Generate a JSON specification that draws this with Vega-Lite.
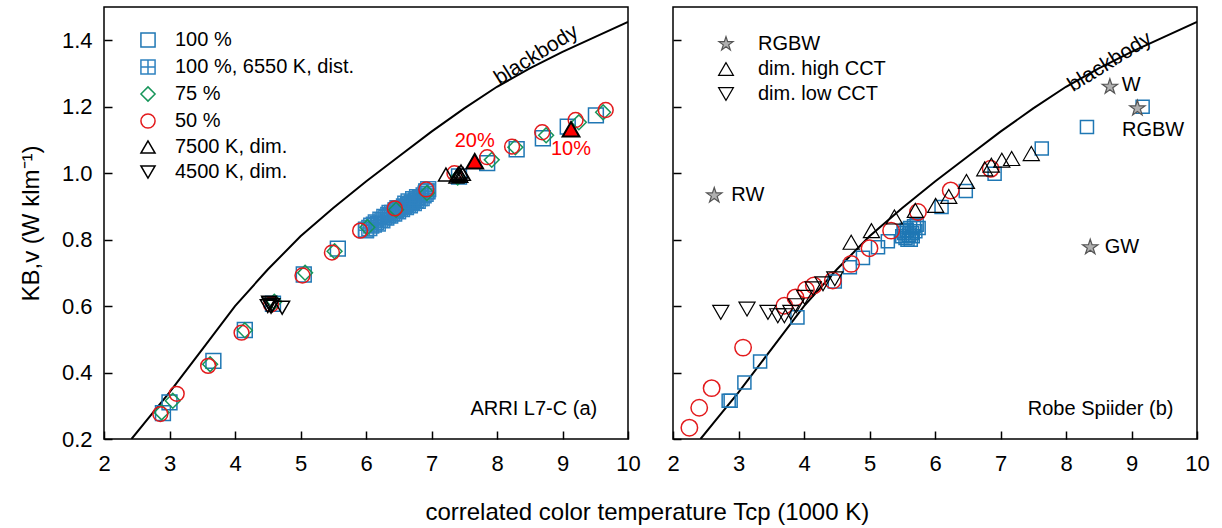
{
  "$schema": "https://vega.github.io/schema/vega-lite/v6.json",
  "background": "white",
  "padding": {"left": 18, "top": 6, "right": 5, "bottom": 5},
  "title": {"text": "correlated color temperature Tcp (1000 K)", "orient": "bottom", "anchor": "middle", "fontSize": 24, "fontWeight": "normal", "font": "Liberation Sans", "color": "black", "offset": 26, "dx": 33},
  "datasets": {
    "blackbody": [
      {"T": 2.42, "K": 0.2}, {"T": 2.75, "K": 0.28}, {"T": 3.0, "K": 0.34}, {"T": 3.5, "K": 0.47},
      {"T": 4.0, "K": 0.6}, {"T": 4.5, "K": 0.71}, {"T": 5.0, "K": 0.81}, {"T": 5.5, "K": 0.895},
      {"T": 6.0, "K": 0.975}, {"T": 6.5, "K": 1.05}, {"T": 7.0, "K": 1.125}, {"T": 7.5, "K": 1.195},
      {"T": 8.0, "K": 1.26}, {"T": 8.5, "K": 1.315}, {"T": 9.0, "K": 1.365}, {"T": 9.5, "K": 1.41}, {"T": 10.0, "K": 1.455}
    ],
    "arri": [
      {"T": 2.90, "K": 0.278, "s": "100 %"}, {"T": 3.00, "K": 0.31, "s": "100 %"}, {"T": 3.67, "K": 0.435, "s": "100 %"},
      {"T": 4.15, "K": 0.528, "s": "100 %"}, {"T": 4.58, "K": 0.607, "s": "100 %"}, {"T": 5.05, "K": 0.695, "s": "100 %"},
      {"T": 5.57, "K": 0.773, "s": "100 %"}, {"T": 6.0, "K": 0.83, "s": "100 %"}, {"T": 6.45, "K": 0.888, "s": "100 %"},
      {"T": 6.92, "K": 0.945, "s": "100 %"}, {"T": 7.42, "K": 0.99, "s": "100 %"}, {"T": 7.85, "K": 1.03, "s": "100 %"},
      {"T": 8.3, "K": 1.072, "s": "100 %"}, {"T": 8.7, "K": 1.105, "s": "100 %"}, {"T": 9.08, "K": 1.14, "s": "100 %"},
      {"T": 9.51, "K": 1.174, "s": "100 %"},
      {"T": 6.00, "K": 0.828, "s": "100 %, 6550 K, dist."}, {"T": 6.05, "K": 0.835, "s": "100 %, 6550 K, dist."},
      {"T": 6.08, "K": 0.842, "s": "100 %, 6550 K, dist."}, {"T": 6.12, "K": 0.845, "s": "100 %, 6550 K, dist."},
      {"T": 6.15, "K": 0.852, "s": "100 %, 6550 K, dist."}, {"T": 6.18, "K": 0.848, "s": "100 %, 6550 K, dist."},
      {"T": 6.22, "K": 0.86, "s": "100 %, 6550 K, dist."}, {"T": 6.25, "K": 0.858, "s": "100 %, 6550 K, dist."},
      {"T": 6.28, "K": 0.868, "s": "100 %, 6550 K, dist."}, {"T": 6.31, "K": 0.866, "s": "100 %, 6550 K, dist."},
      {"T": 6.34, "K": 0.874, "s": "100 %, 6550 K, dist."}, {"T": 6.37, "K": 0.872, "s": "100 %, 6550 K, dist."},
      {"T": 6.40, "K": 0.88, "s": "100 %, 6550 K, dist."}, {"T": 6.43, "K": 0.878, "s": "100 %, 6550 K, dist."},
      {"T": 6.46, "K": 0.888, "s": "100 %, 6550 K, dist."}, {"T": 6.49, "K": 0.885, "s": "100 %, 6550 K, dist."},
      {"T": 6.52, "K": 0.893, "s": "100 %, 6550 K, dist."}, {"T": 6.55, "K": 0.892, "s": "100 %, 6550 K, dist."},
      {"T": 6.58, "K": 0.9, "s": "100 %, 6550 K, dist."}, {"T": 6.61, "K": 0.898, "s": "100 %, 6550 K, dist."},
      {"T": 6.64, "K": 0.905, "s": "100 %, 6550 K, dist."}, {"T": 6.67, "K": 0.903, "s": "100 %, 6550 K, dist."},
      {"T": 6.70, "K": 0.912, "s": "100 %, 6550 K, dist."}, {"T": 6.73, "K": 0.91, "s": "100 %, 6550 K, dist."},
      {"T": 6.76, "K": 0.918, "s": "100 %, 6550 K, dist."}, {"T": 6.79, "K": 0.917, "s": "100 %, 6550 K, dist."},
      {"T": 6.82, "K": 0.925, "s": "100 %, 6550 K, dist."}, {"T": 6.85, "K": 0.925, "s": "100 %, 6550 K, dist."},
      {"T": 6.88, "K": 0.933, "s": "100 %, 6550 K, dist."}, {"T": 6.91, "K": 0.938, "s": "100 %, 6550 K, dist."},
      {"T": 6.94, "K": 0.945, "s": "100 %, 6550 K, dist."}, {"T": 6.95, "K": 0.952, "s": "100 %, 6550 K, dist."},
      {"T": 6.72, "K": 0.922, "s": "100 %, 6550 K, dist."}, {"T": 6.60, "K": 0.908, "s": "100 %, 6550 K, dist."},
      {"T": 6.48, "K": 0.895, "s": "100 %, 6550 K, dist."}, {"T": 6.36, "K": 0.88, "s": "100 %, 6550 K, dist."},
      {"T": 6.65, "K": 0.915, "s": "100 %, 6550 K, dist."}, {"T": 6.78, "K": 0.928, "s": "100 %, 6550 K, dist."},
      {"T": 2.88, "K": 0.28, "s": "75 %"}, {"T": 3.05, "K": 0.315, "s": "75 %"}, {"T": 3.62, "K": 0.425, "s": "75 %"},
      {"T": 4.15, "K": 0.527, "s": "75 %"}, {"T": 4.6, "K": 0.613, "s": "75 %"}, {"T": 5.07, "K": 0.7, "s": "75 %"},
      {"T": 5.52, "K": 0.765, "s": "75 %"}, {"T": 6.02, "K": 0.837, "s": "75 %"}, {"T": 6.46, "K": 0.89, "s": "75 %"},
      {"T": 6.93, "K": 0.94, "s": "75 %"}, {"T": 7.4, "K": 0.987, "s": "75 %"}, {"T": 7.92, "K": 1.04, "s": "75 %"},
      {"T": 8.28, "K": 1.078, "s": "75 %"}, {"T": 8.75, "K": 1.114, "s": "75 %"}, {"T": 9.25, "K": 1.153, "s": "75 %"},
      {"T": 9.62, "K": 1.183, "s": "75 %"},
      {"T": 2.86, "K": 0.275, "s": "50 %"}, {"T": 3.11, "K": 0.336, "s": "50 %"}, {"T": 3.59, "K": 0.42, "s": "50 %"},
      {"T": 4.1, "K": 0.52, "s": "50 %"}, {"T": 4.55, "K": 0.605, "s": "50 %"}, {"T": 5.03, "K": 0.692, "s": "50 %"},
      {"T": 5.48, "K": 0.761, "s": "50 %"}, {"T": 5.91, "K": 0.827, "s": "50 %"}, {"T": 6.44, "K": 0.894, "s": "50 %"},
      {"T": 6.92, "K": 0.951, "s": "50 %"}, {"T": 7.35, "K": 1.0, "s": "50 %"}, {"T": 7.85, "K": 1.048, "s": "50 %"},
      {"T": 8.23, "K": 1.08, "s": "50 %"}, {"T": 8.69, "K": 1.123, "s": "50 %"}, {"T": 9.2, "K": 1.16, "s": "50 %"},
      {"T": 9.66, "K": 1.19, "s": "50 %"},
      {"T": 7.22, "K": 0.996, "s": "7500 K, dim."}, {"T": 7.38, "K": 0.99, "s": "7500 K, dim."},
      {"T": 7.42, "K": 1.0, "s": "7500 K, dim."}, {"T": 7.45, "K": 1.005, "s": "7500 K, dim."},
      {"T": 7.4, "K": 0.995, "s": "7500 K, dim."}, {"T": 7.48, "K": 0.998, "s": "7500 K, dim."},
      {"T": 7.44, "K": 0.992, "s": "7500 K, dim."},
      {"T": 4.5, "K": 0.6, "s": "4500 K, dim."}, {"T": 4.53, "K": 0.605, "s": "4500 K, dim."},
      {"T": 4.55, "K": 0.598, "s": "4500 K, dim."}, {"T": 4.52, "K": 0.61, "s": "4500 K, dim."},
      {"T": 4.57, "K": 0.603, "s": "4500 K, dim."}, {"T": 4.72, "K": 0.595, "s": "4500 K, dim."}
    ],
    "arriRed": [
      {"T": 7.66, "K": 1.036, "label": "20%", "LK": 1.097},
      {"T": 9.13, "K": 1.132, "label": "10%", "LK": 1.072}
    ],
    "robeSquares": [
      {"T": 2.85, "K": 0.315}, {"T": 2.88, "K": 0.315}, {"T": 3.09, "K": 0.37}, {"T": 3.33, "K": 0.433},
      {"T": 3.9, "K": 0.566}, {"T": 4.47, "K": 0.674}, {"T": 4.7, "K": 0.717}, {"T": 4.9, "K": 0.745},
      {"T": 5.13, "K": 0.777}, {"T": 5.28, "K": 0.795},
      {"T": 5.50, "K": 0.81}, {"T": 5.53, "K": 0.82}, {"T": 5.55, "K": 0.805}, {"T": 5.57, "K": 0.83},
      {"T": 5.60, "K": 0.815}, {"T": 5.62, "K": 0.835}, {"T": 5.58, "K": 0.8}, {"T": 5.65, "K": 0.82},
      {"T": 5.68, "K": 0.84}, {"T": 5.70, "K": 0.825}, {"T": 5.72, "K": 0.845}, {"T": 5.66, "K": 0.81},
      {"T": 5.75, "K": 0.835}, {"T": 5.52, "K": 0.825}, {"T": 5.63, "K": 0.8},
      {"T": 6.1, "K": 0.898}, {"T": 6.47, "K": 0.946}, {"T": 6.91, "K": 0.998}, {"T": 7.63, "K": 1.074},
      {"T": 8.32, "K": 1.139}, {"T": 9.17, "K": 1.2}
    ],
    "robeCircles": [
      {"T": 2.25, "K": 0.234}, {"T": 2.4, "K": 0.294}, {"T": 2.59, "K": 0.353}, {"T": 3.07, "K": 0.475},
      {"T": 3.7, "K": 0.601}, {"T": 3.87, "K": 0.626}, {"T": 4.03, "K": 0.649}, {"T": 4.15, "K": 0.662},
      {"T": 4.44, "K": 0.677}, {"T": 4.72, "K": 0.727}, {"T": 5.0, "K": 0.774}, {"T": 5.33, "K": 0.827},
      {"T": 5.74, "K": 0.883}, {"T": 6.24, "K": 0.948}, {"T": 6.85, "K": 1.013}
    ],
    "robe": [
      {"T": 2.73, "K": 0.581, "s": "dim. low CCT"}, {"T": 3.13, "K": 0.591, "s": "dim. low CCT"},
      {"T": 3.45, "K": 0.581, "s": "dim. low CCT"}, {"T": 3.6, "K": 0.571, "s": "dim. low CCT"},
      {"T": 3.7, "K": 0.571, "s": "dim. low CCT"}, {"T": 3.8, "K": 0.581, "s": "dim. low CCT"},
      {"T": 3.88, "K": 0.601, "s": "dim. low CCT"}, {"T": 4.01, "K": 0.626, "s": "dim. low CCT"},
      {"T": 4.14, "K": 0.652, "s": "dim. low CCT"}, {"T": 4.29, "K": 0.667, "s": "dim. low CCT"},
      {"T": 4.47, "K": 0.682, "s": "dim. low CCT"},
      {"T": 4.72, "K": 0.792, "s": "dim. high CCT"}, {"T": 5.03, "K": 0.827, "s": "dim. high CCT"},
      {"T": 5.38, "K": 0.868, "s": "dim. high CCT"}, {"T": 5.7, "K": 0.888, "s": "dim. high CCT"},
      {"T": 6.01, "K": 0.903, "s": "dim. high CCT"}, {"T": 6.21, "K": 0.93, "s": "dim. high CCT"},
      {"T": 6.48, "K": 0.975, "s": "dim. high CCT"}, {"T": 6.76, "K": 1.013, "s": "dim. high CCT"},
      {"T": 6.86, "K": 1.024, "s": "dim. high CCT"}, {"T": 7.02, "K": 1.039, "s": "dim. high CCT"},
      {"T": 7.17, "K": 1.044, "s": "dim. high CCT"}, {"T": 7.47, "K": 1.059, "s": "dim. high CCT"},
      {"T": 2.63, "K": 0.933, "s": "RGBW"}, {"T": 8.67, "K": 1.26, "s": "RGBW"},
      {"T": 9.09, "K": 1.195, "s": "RGBW"}, {"T": 8.37, "K": 0.777, "s": "RGBW"}
    ],
    "starLabelsLeft": [
      {"T": 2.89, "K": 0.933, "label": "RW"}, {"T": 8.85, "K": 1.265, "label": "W"}, {"T": 8.59, "K": 0.777, "label": "GW"}
    ],
    "starLabelsCenter": [
      {"T": 9.33, "K": 1.129, "label": "RGBW"}
    ],
    "bbLabelL": [{"T": 8.6, "K": 1.355, "label": "blackbody"}],
    "bbLabelR": [{"T": 8.67, "K": 1.334, "label": "blackbody"}],
    "panelL": [{"T": 9.53, "K": 0.29, "label": "ARRI L7-C (a)"}],
    "panelR": [{"T": 9.64, "K": 0.29, "label": "Robe Spiider (b)"}]
  },
  "spacing": 25,
  "resolve": {"scale": {"color": "independent", "shape": "independent", "fill": "independent", "stroke": "independent"}},
  "hconcat": [
    {
      "width": 524,
      "height": 432,
      "layer": [
        {
          "data": {"name": "blackbody"},
          "mark": {"type": "line", "color": "black", "strokeWidth": 2, "clip": true},
          "encoding": {
            "x": {"field": "T", "type": "quantitative", "scale": {"domain": [2, 10], "nice": false, "zero": false},
              "axis": {"title": null, "values": [2, 3, 4, 5, 6, 7, 8, 9, 10], "format": "d", "domain": false,
                "offset": -8, "tickSize": 8, "labelPadding": 14, "labelFlush": false, "labelOverlap": false}},
            "y": {"field": "K", "type": "quantitative", "scale": {"domain": [0.2, 1.5], "nice": false, "zero": false},
              "axis": {"title": "KB,v (W klm⁻¹)", "titlePadding": 18, "format": ".1f", "domain": false,
                "values": [0.2, 0.4, 0.6, 0.8, 1.0, 1.2, 1.4],
                "offset": -8, "tickSize": 8, "labelPadding": 12, "labelFlush": false, "labelOverlap": false}}
          }
        },
        {
          "data": {"name": "arri"},
          "mark": {"type": "point", "filled": false, "strokeWidth": 1.5, "opacity": 1, "size": 220},
          "encoding": {
            "x": {"field": "T", "type": "quantitative"},
            "y": {"field": "K", "type": "quantitative"},
            "color": {"field": "s", "type": "nominal",
              "scale": {"domain": ["100 %", "100 %, 6550 K, dist.", "75 %", "50 %", "7500 K, dim.", "4500 K, dim."],
                "range": ["#1f77b4", "#2f82c0", "#17955a", "#e31a1c", "black", "black"]},
              "legend": {"title": null, "orient": "none", "legendX": 34, "legendY": 23, "labelFontSize": 20, "symbolSize": 200, "symbolStrokeWidth": 1.5, "rowPadding": 5, "labelOffset": 17, "labelLimit": 400}},
            "shape": {"field": "s", "type": "nominal",
              "scale": {"domain": ["100 %", "100 %, 6550 K, dist.", "75 %", "50 %", "7500 K, dim.", "4500 K, dim."],
                "range": ["square", "M-1,-1H1V1H-1Z M0,-1V1 M-1,0H1", "diamond", "circle", "triangle-up", "triangle-down"]}}
          }
        },
        {
          "data": {"name": "arriRed"},
          "mark": {"type": "point", "shape": "triangle-up", "filled": true, "fill": "#ff0000", "stroke": "black", "strokeWidth": 2, "size": 280, "opacity": 1},
          "encoding": {
            "x": {"field": "T", "type": "quantitative"},
            "y": {"field": "K", "type": "quantitative"}
          }
        },
        {
          "data": {"name": "arriRed"},
          "mark": {"type": "text", "color": "#ff0000", "fontSize": 20, "align": "center", "baseline": "middle"},
          "encoding": {
            "x": {"field": "T", "type": "quantitative"},
            "y": {"field": "LK", "type": "quantitative"},
            "text": {"field": "label", "type": "nominal"}
          }
        },
        {
          "data": {"name": "bbLabelL"},
          "mark": {"type": "text", "color": "black", "fontSize": 21, "angle": 328, "align": "center", "baseline": "middle"},
          "encoding": {
            "x": {"field": "T", "type": "quantitative"},
            "y": {"field": "K", "type": "quantitative"},
            "text": {"field": "label", "type": "nominal"}
          }
        },
        {
          "data": {"name": "panelL"},
          "mark": {"type": "text", "color": "black", "fontSize": 20, "align": "right", "baseline": "middle"},
          "encoding": {
            "x": {"field": "T", "type": "quantitative"},
            "y": {"field": "K", "type": "quantitative"},
            "text": {"field": "label", "type": "nominal"}
          }
        }
      ]
    },
    {
      "width": 524,
      "height": 432,
      "layer": [
        {
          "data": {"name": "blackbody"},
          "mark": {"type": "line", "color": "black", "strokeWidth": 2, "clip": true},
          "encoding": {
            "x": {"field": "T", "type": "quantitative", "scale": {"domain": [2, 10], "nice": false, "zero": false},
              "axis": {"title": null, "values": [2, 3, 4, 5, 6, 7, 8, 9, 10], "format": "d", "domain": false,
                "offset": -8, "tickSize": 8, "labelPadding": 14, "labelFlush": false, "labelOverlap": false}},
            "y": {"field": "K", "type": "quantitative", "scale": {"domain": [0.2, 1.5], "nice": false, "zero": false},
              "axis": {"title": null, "labels": false, "domain": false, "values": [0.2, 0.4, 0.6, 0.8, 1.0, 1.2, 1.4], "offset": -8, "tickSize": 8}}
          }
        },
        {
          "data": {"name": "robeSquares"},
          "mark": {"type": "point", "shape": "square", "filled": false, "color": "#1f77b4", "strokeWidth": 1.5, "size": 170, "opacity": 1},
          "encoding": {
            "x": {"field": "T", "type": "quantitative"},
            "y": {"field": "K", "type": "quantitative"}
          }
        },
        {
          "data": {"name": "robeCircles"},
          "mark": {"type": "point", "shape": "circle", "filled": false, "color": "#e31a1c", "strokeWidth": 1.5, "size": 270, "opacity": 1},
          "encoding": {
            "x": {"field": "T", "type": "quantitative"},
            "y": {"field": "K", "type": "quantitative"}
          }
        },
        {
          "data": {"name": "robe"},
          "mark": {"type": "point", "strokeWidth": 1.2, "opacity": 1, "size": 260},
          "encoding": {
            "x": {"field": "T", "type": "quantitative"},
            "y": {"field": "K", "type": "quantitative"},
            "fill": {"field": "s", "type": "nominal",
              "scale": {"domain": ["RGBW", "dim. high CCT", "dim. low CCT"], "range": ["#b0b0b0", "transparent", "transparent"]},
              "legend": {"title": null, "orient": "none", "legendX": 43, "legendY": 27, "labelFontSize": 20, "symbolSize": 220, "symbolStrokeWidth": 1.2, "rowPadding": 5, "labelOffset": 22, "labelLimit": 400}},
            "stroke": {"field": "s", "type": "nominal",
              "scale": {"domain": ["RGBW", "dim. high CCT", "dim. low CCT"], "range": ["#555555", "black", "black"]}},
            "shape": {"field": "s", "type": "nominal",
              "scale": {"domain": ["RGBW", "dim. high CCT", "dim. low CCT"],
                "range": ["M0,-1L0.225,-0.309L0.951,-0.309L0.363,0.118L0.588,0.809L0,0.382L-0.588,0.809L-0.363,0.118L-0.951,-0.309L-0.225,-0.309Z", "triangle-up", "triangle-down"]}}
          }
        },
        {
          "data": {"name": "starLabelsLeft"},
          "mark": {"type": "text", "color": "black", "fontSize": 20, "align": "left", "baseline": "middle"},
          "encoding": {
            "x": {"field": "T", "type": "quantitative"},
            "y": {"field": "K", "type": "quantitative"},
            "text": {"field": "label", "type": "nominal"}
          }
        },
        {
          "data": {"name": "starLabelsCenter"},
          "mark": {"type": "text", "color": "black", "fontSize": 20, "align": "center", "baseline": "middle"},
          "encoding": {
            "x": {"field": "T", "type": "quantitative"},
            "y": {"field": "K", "type": "quantitative"},
            "text": {"field": "label", "type": "nominal"}
          }
        },
        {
          "data": {"name": "bbLabelR"},
          "mark": {"type": "text", "color": "black", "fontSize": 21, "angle": 328, "align": "center", "baseline": "middle"},
          "encoding": {
            "x": {"field": "T", "type": "quantitative"},
            "y": {"field": "K", "type": "quantitative"},
            "text": {"field": "label", "type": "nominal"}
          }
        },
        {
          "data": {"name": "panelR"},
          "mark": {"type": "text", "color": "black", "fontSize": 20, "align": "right", "baseline": "middle"},
          "encoding": {
            "x": {"field": "T", "type": "quantitative"},
            "y": {"field": "K", "type": "quantitative"},
            "text": {"field": "label", "type": "nominal"}
          }
        }
      ]
    }
  ],
  "config": {
    "font": "Liberation Sans",
    "view": {"stroke": "black", "strokeWidth": 1.5},
    "axis": {"grid": false, "tickColor": "black", "tickWidth": 1.5,
      "labelColor": "black", "labelFontSize": 22, "labelFont": "Liberation Sans", "titleColor": "black", "titleFontSize": 24,
      "titleFontWeight": "normal", "titleFont": "Liberation Sans"},
    "legend": {"labelColor": "black", "labelFont": "Liberation Sans"}
  }
}
